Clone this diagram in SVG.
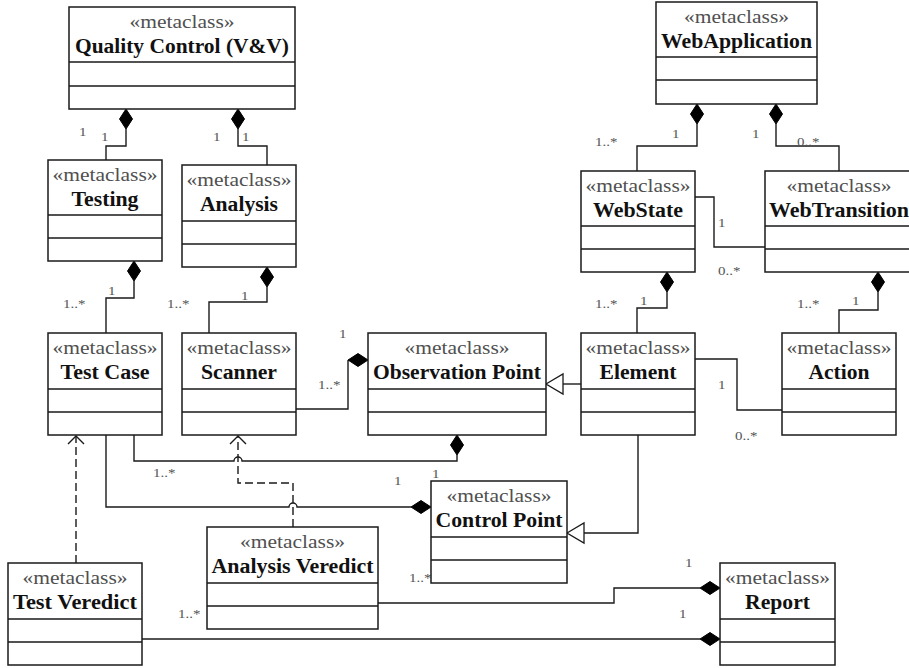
<svg xmlns="http://www.w3.org/2000/svg" xmlns:xlink="http://www.w3.org/1999/xlink" width="909" height="668" viewBox="0 0 909 668">
<style>
.box{fill:#fff;stroke:#1a1a1a;stroke-width:1.5}
.div{stroke:#1a1a1a;stroke-width:1.5}
.st{font-family:"Liberation Serif","Times New Roman",serif;font-size:19px;fill:#505050;text-anchor:middle}
.nm{font-family:"Liberation Serif","Times New Roman",serif;font-size:20px;font-weight:bold;fill:#111;text-anchor:middle}
.lb{font-family:"Liberation Serif","Times New Roman",serif;font-size:13.5px;fill:#555}
.ln{fill:none;stroke:#1a1a1a;stroke-width:1.4}
.dash{fill:none;stroke:#1a1a1a;stroke-width:1.4;stroke-dasharray:8,4}
.dm{fill:#000;stroke:#000;stroke-width:1}
.tr{fill:#fff;stroke:#1a1a1a;stroke-width:1.3}
</style>
<defs>
<path id="dv" d="M0,0 L6.5,10 L0,20 L-6.5,10 Z"/>
<path id="dh" d="M0,0 L-10,-6.5 L-20,0 L-10,6.5 Z"/>
<path id="tri" d="M0,0 L17,-10 L17,10 Z"/>
<path id="arr" d="M-8,8 L0,0 L8,8"/>
</defs>
<rect width="909" height="668" fill="#fff"/>

<g id="connectors">
<path class="ln" d="M126,129 V146 H106 V160"/>
<path class="ln" d="M238,129 V146 H267 V165"/>
<path class="ln" d="M134,281 V298 H106 V333"/>
<path class="ln" d="M267,287 V302 H209 V333"/>
<path class="ln" d="M348,360 V409 H296"/>
<path class="ln" d="M581,384 H563"/>
<path class="ln" d="M697,124 V146 H637 V171"/>
<path class="ln" d="M776,124 V146 H839 V171"/>
<path class="ln" d="M695,197 H714 V247 H765"/>
<path class="ln" d="M667,292 V308 H637 V333"/>
<path class="ln" d="M878,292 V310 H839 V333"/>
<path class="ln" d="M695,359 H737 V410 H782"/>
<path class="ln" d="M638,435 V533 H584"/>
<path class="ln" d="M457,455 V461 H242 A4,4 0 0 0 234,461 H134 V435"/>
<path class="ln" d="M106,435 V507 H289 A4,4 0 0 1 297,507 H411"/>
<path class="ln" d="M378,603 H614 V588 H700"/>
<path class="ln" d="M142,639 H700"/>
<path class="dash" d="M293,527 V483 H238 V437"/>
<path class="dash" d="M76,563 V437"/>
<use href="#arr" x="238" y="436" class="ln"/>
<use href="#arr" x="76" y="436" class="ln"/>
<use href="#dv" x="126" y="109" class="dm"/>
<use href="#dv" x="238" y="109" class="dm"/>
<use href="#dv" x="134" y="261" class="dm"/>
<use href="#dv" x="267" y="267" class="dm"/>
<use href="#dv" x="697" y="104" class="dm"/>
<use href="#dv" x="776" y="104" class="dm"/>
<use href="#dv" x="667" y="272" class="dm"/>
<use href="#dv" x="878" y="272" class="dm"/>
<use href="#dv" x="457" y="435" class="dm"/>
<use href="#dh" x="368" y="360" class="dm"/>
<use href="#dh" x="431" y="507" class="dm"/>
<use href="#dh" x="720" y="588" class="dm"/>
<use href="#dh" x="720" y="639" class="dm"/>
<use href="#tri" x="546" y="384" class="tr"/>
<use href="#tri" x="567" y="533" class="tr"/>
</g>

<g id="labels">
<text class="lb" x="79" y="136" textLength="7.5" lengthAdjust="spacingAndGlyphs">1</text>
<text class="lb" x="101" y="141" textLength="7.5" lengthAdjust="spacingAndGlyphs">1</text>
<text class="lb" x="213" y="141" textLength="7.5" lengthAdjust="spacingAndGlyphs">1</text>
<text class="lb" x="242" y="141" textLength="7.5" lengthAdjust="spacingAndGlyphs">1</text>
<text class="lb" x="108" y="295" textLength="7.5" lengthAdjust="spacingAndGlyphs">1</text>
<text class="lb" x="63" y="308" textLength="22.5" lengthAdjust="spacingAndGlyphs">1..*</text>
<text class="lb" x="241" y="300" textLength="7.5" lengthAdjust="spacingAndGlyphs">1</text>
<text class="lb" x="167" y="308" textLength="22.5" lengthAdjust="spacingAndGlyphs">1..*</text>
<text class="lb" x="339" y="338" textLength="7.5" lengthAdjust="spacingAndGlyphs">1</text>
<text class="lb" x="318" y="389" textLength="22.5" lengthAdjust="spacingAndGlyphs">1..*</text>
<text class="lb" x="432" y="478" textLength="7.5" lengthAdjust="spacingAndGlyphs">1</text>
<text class="lb" x="394" y="485" textLength="7.5" lengthAdjust="spacingAndGlyphs">1</text>
<text class="lb" x="153" y="477" textLength="22.5" lengthAdjust="spacingAndGlyphs">1..*</text>
<text class="lb" x="409" y="582" textLength="22.5" lengthAdjust="spacingAndGlyphs">1..*</text>
<text class="lb" x="178" y="618" textLength="22.5" lengthAdjust="spacingAndGlyphs">1..*</text>
<text class="lb" x="685" y="567" textLength="7.5" lengthAdjust="spacingAndGlyphs">1</text>
<text class="lb" x="679" y="618" textLength="7.5" lengthAdjust="spacingAndGlyphs">1</text>
<text class="lb" x="595" y="146" textLength="22.5" lengthAdjust="spacingAndGlyphs">1..*</text>
<text class="lb" x="672" y="138" textLength="7.5" lengthAdjust="spacingAndGlyphs">1</text>
<text class="lb" x="752" y="138" textLength="7.5" lengthAdjust="spacingAndGlyphs">1</text>
<text class="lb" x="797" y="146" textLength="22.5" lengthAdjust="spacingAndGlyphs">0..*</text>
<text class="lb" x="718" y="227" textLength="7.5" lengthAdjust="spacingAndGlyphs">1</text>
<text class="lb" x="718" y="275" textLength="22.5" lengthAdjust="spacingAndGlyphs">0..*</text>
<text class="lb" x="595" y="308" textLength="22.5" lengthAdjust="spacingAndGlyphs">1..*</text>
<text class="lb" x="640" y="305" textLength="7.5" lengthAdjust="spacingAndGlyphs">1</text>
<text class="lb" x="797" y="308" textLength="22.5" lengthAdjust="spacingAndGlyphs">1..*</text>
<text class="lb" x="852" y="305" textLength="7.5" lengthAdjust="spacingAndGlyphs">1</text>
<text class="lb" x="718" y="389" textLength="7.5" lengthAdjust="spacingAndGlyphs">1</text>
<text class="lb" x="735" y="440" textLength="22.5" lengthAdjust="spacingAndGlyphs">0..*</text>
</g>

<g id="qualitycontrol">
<rect class="box" x="69" y="7" width="226" height="102"/>
<path class="div" d="M69,62 H295 M69,86 H295"/>
<text class="st" x="182" y="28" textLength="105" lengthAdjust="spacingAndGlyphs">«metaclass»</text>
<text class="nm" x="182" y="53" textLength="214" lengthAdjust="spacingAndGlyphs">Quality Control (V&amp;V)</text>
</g>
<g id="testing">
<rect class="box" x="48" y="160" width="114" height="101"/>
<path class="div" d="M48,215 H162 M48,238 H162"/>
<text class="st" x="105" y="181" textLength="105" lengthAdjust="spacingAndGlyphs">«metaclass»</text>
<text class="nm" x="105" y="206" textLength="67" lengthAdjust="spacingAndGlyphs">Testing</text>
</g>
<g id="analysis">
<rect class="box" x="182" y="165" width="114" height="102"/>
<path class="div" d="M182,221 H296 M182,244 H296"/>
<text class="st" x="239" y="186" textLength="105" lengthAdjust="spacingAndGlyphs">«metaclass»</text>
<text class="nm" x="239" y="211" textLength="78" lengthAdjust="spacingAndGlyphs">Analysis</text>
</g>
<g id="testcase">
<rect class="box" x="48" y="333" width="114" height="102"/>
<path class="div" d="M48,389 H162 M48,412 H162"/>
<text class="st" x="105" y="354" textLength="105" lengthAdjust="spacingAndGlyphs">«metaclass»</text>
<text class="nm" x="105" y="379" textLength="89" lengthAdjust="spacingAndGlyphs">Test Case</text>
</g>
<g id="scanner">
<rect class="box" x="182" y="333" width="114" height="102"/>
<path class="div" d="M182,389 H296 M182,412 H296"/>
<text class="st" x="239" y="354" textLength="105" lengthAdjust="spacingAndGlyphs">«metaclass»</text>
<text class="nm" x="239" y="379" textLength="76" lengthAdjust="spacingAndGlyphs">Scanner</text>
</g>
<g id="observationpoint">
<rect class="box" x="368" y="333" width="178" height="102"/>
<path class="div" d="M368,389 H546 M368,412 H546"/>
<text class="st" x="457" y="354" textLength="105" lengthAdjust="spacingAndGlyphs">«metaclass»</text>
<text class="nm" x="457" y="379" textLength="168" lengthAdjust="spacingAndGlyphs">Observation Point</text>
</g>
<g id="element">
<rect class="box" x="581" y="333" width="114" height="102"/>
<path class="div" d="M581,389 H695 M581,412 H695"/>
<text class="st" x="638" y="354" textLength="105" lengthAdjust="spacingAndGlyphs">«metaclass»</text>
<text class="nm" x="638" y="379" textLength="77" lengthAdjust="spacingAndGlyphs">Element</text>
</g>
<g id="action">
<rect class="box" x="782" y="333" width="114" height="102"/>
<path class="div" d="M782,389 H896 M782,412 H896"/>
<text class="st" x="839" y="354" textLength="105" lengthAdjust="spacingAndGlyphs">«metaclass»</text>
<text class="nm" x="839" y="379" textLength="61" lengthAdjust="spacingAndGlyphs">Action</text>
</g>
<g id="webapplication">
<rect class="box" x="656" y="2" width="161" height="102"/>
<path class="div" d="M656,57 H817 M656,80 H817"/>
<text class="st" x="736.5" y="23" textLength="105" lengthAdjust="spacingAndGlyphs">«metaclass»</text>
<text class="nm" x="736.5" y="48" textLength="151" lengthAdjust="spacingAndGlyphs">WebApplication</text>
</g>
<g id="webstate">
<rect class="box" x="581" y="171" width="114" height="101"/>
<path class="div" d="M581,226 H695 M581,249 H695"/>
<text class="st" x="638" y="192" textLength="105" lengthAdjust="spacingAndGlyphs">«metaclass»</text>
<text class="nm" x="638" y="217" textLength="90" lengthAdjust="spacingAndGlyphs">WebState</text>
</g>
<g id="webtransition">
<rect class="box" x="765" y="171" width="148" height="101"/>
<path class="div" d="M765,226 H913 M765,249 H913"/>
<text class="st" x="839" y="192" textLength="105" lengthAdjust="spacingAndGlyphs">«metaclass»</text>
<text class="nm" x="839" y="217" textLength="140" lengthAdjust="spacingAndGlyphs">WebTransition</text>
</g>
<g id="controlpoint">
<rect class="box" x="431" y="481" width="136" height="102"/>
<path class="div" d="M431,537 H567 M431,560 H567"/>
<text class="st" x="499" y="502" textLength="105" lengthAdjust="spacingAndGlyphs">«metaclass»</text>
<text class="nm" x="499" y="527" textLength="127" lengthAdjust="spacingAndGlyphs">Control Point</text>
</g>
<g id="analysisveredict">
<rect class="box" x="207" y="527" width="171" height="102"/>
<path class="div" d="M207,583 H378 M207,606 H378"/>
<text class="st" x="292.5" y="548" textLength="105" lengthAdjust="spacingAndGlyphs">«metaclass»</text>
<text class="nm" x="292.5" y="573" textLength="162" lengthAdjust="spacingAndGlyphs">Analysis Veredict</text>
</g>
<g id="testveredict">
<rect class="box" x="8" y="563" width="134" height="102"/>
<path class="div" d="M8,619 H142 M8,642 H142"/>
<text class="st" x="75" y="584" textLength="105" lengthAdjust="spacingAndGlyphs">«metaclass»</text>
<text class="nm" x="75" y="609" textLength="124" lengthAdjust="spacingAndGlyphs">Test Veredict</text>
</g>
<g id="report">
<rect class="box" x="720" y="563" width="115" height="102"/>
<path class="div" d="M720,619 H835 M720,642 H835"/>
<text class="st" x="777.5" y="584" textLength="105" lengthAdjust="spacingAndGlyphs">«metaclass»</text>
<text class="nm" x="777.5" y="609" textLength="65" lengthAdjust="spacingAndGlyphs">Report</text>
</g>
</svg>
